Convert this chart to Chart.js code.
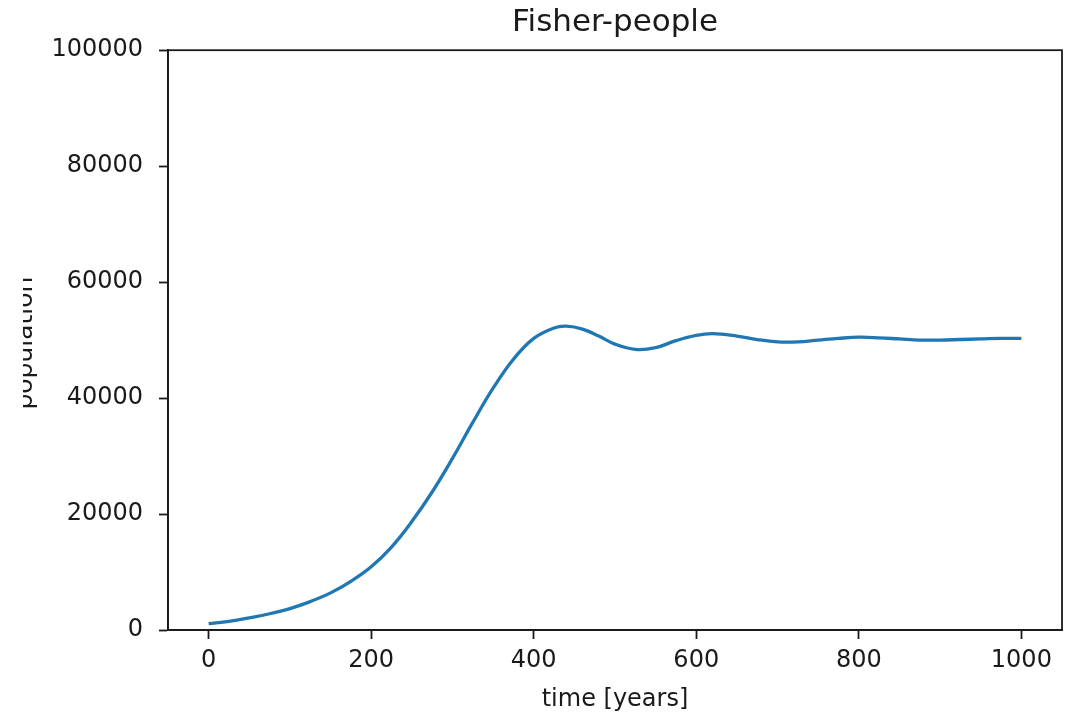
<!DOCTYPE html>
<html>
<head>
<meta charset="utf-8">
<script src="https://cdn.jsdelivr.net/npm/chart.js@4.4.1/dist/chart.umd.min.js"></script>
<style>
html,body{margin:0;padding:0;background:#fff;}
canvas{display:block;}
</style>
</head>
<body>
<canvas id="c" width="1074" height="714"></canvas>
<script>
const years = [0,25,50,75,100,125,150,175,200,225,250,275,300,325,350,375,400,425,440,460,480,500,525,550,575,600,620,650,675,700,725,750,775,800,825,850,875,900,925,950,975,1000];
const population = [1100,1500,2100,2800,3700,4900,6400,8400,10900,14300,18700,23800,29600,35800,41700,46700,50300,52100,52400,51900,50700,49300,48400,48700,49900,50800,51100,50700,50100,49700,49700,50000,50300,50500,50400,50200,50000,50000,50100,50200,50300,50300];
const xTicks = [0,200,400,600,800,1000];
const yTicks = [0,20000,40000,60000,80000,100000];
const titleText = 'Fisher-people';
const xLabel = 'time [years]';
const yLabel = 'population';

const FONT = "'DejaVu Sans', sans-serif";
const INK = '#1a1a1a';

const frame = {
  id: 'frame',
  afterDatasetsDraw(chart) {
    const a = chart.chartArea, ctx = chart.ctx;
    ctx.save();
    ctx.strokeStyle = INK;
    ctx.lineWidth = 1.8;
    ctx.strokeRect(a.left, a.top, a.right - a.left, a.bottom - a.top);
    ctx.restore();
  }
};

const yTitle = {
  id: 'yTitle',
  afterDraw(chart) {
    const a = chart.chartArea, ctx = chart.ctx;
    ctx.save();
    ctx.beginPath();
    ctx.rect(23, 0, 200, 714);
    ctx.clip();
    ctx.translate(32, (a.top + a.bottom) / 2 + 3);
    ctx.rotate(-Math.PI / 2);
    ctx.font = '25px ' + FONT;
    ctx.fillStyle = INK;
    ctx.textAlign = 'center';
    ctx.textBaseline = 'alphabetic';
    ctx.fillText(yLabel, 0, 0);
    ctx.restore();
  }
};

new Chart(document.getElementById('c'), {
  type: 'line',
  data: {
    datasets: [{
      data: years.map((t, i) => ({x: t, y: population[i]})),
      borderColor: '#1f77b4',
      borderWidth: 3.3,
      pointRadius: 0,
      fill: false,
      tension: 0.4
    }]
  },
  options: {
    responsive: false,
    animation: false,
    layout: {padding: {left: 0, right: 12, top: 0, bottom: 0}},
    plugins: {
      legend: {display: false},
      tooltip: {enabled: false},
      title: {
        display: true,
        text: titleText,
        fullSize: false,
        color: INK,
        font: {family: FONT, size: 31, weight: 'normal'},
        padding: {top: 4, bottom: 9}
      }
    },
    scales: {
      x: {
        type: 'linear',
        min: -50, max: 1050,
        afterBuildTicks: s => { s.ticks = xTicks.map(v => ({value: v})); },
        afterFit: s => { s.height = 84; },
        grid: {display: true, drawOnChartArea: false, drawTicks: true, tickLength: 9, tickColor: INK, tickWidth: 1.8},
        border: {display: true, color: INK, width: 1.8},
        ticks: {color: INK, font: {family: FONT, size: 24}, padding: 7, maxRotation: 0, callback: v => String(v)},
        title: {display: true, text: xLabel, color: INK, font: {family: FONT, size: 24}, padding: {top: 0, bottom: 0}}
      },
      y: {
        type: 'linear',
        min: 0, max: 100000,
        afterBuildTicks: s => { s.ticks = yTicks.map(v => ({value: v})); },
        afterFit: s => { s.width = 168; },
        grid: {display: true, drawOnChartArea: false, drawTicks: true, tickLength: 9, tickColor: INK, tickWidth: 1.8},
        border: {display: true, color: INK, width: 1.8},
        ticks: {color: INK, font: {family: FONT, size: 24}, padding: 16, callback: v => String(v)}
      }
    }
  },
  plugins: [frame, yTitle]
});
</script>
</body>
</html>
